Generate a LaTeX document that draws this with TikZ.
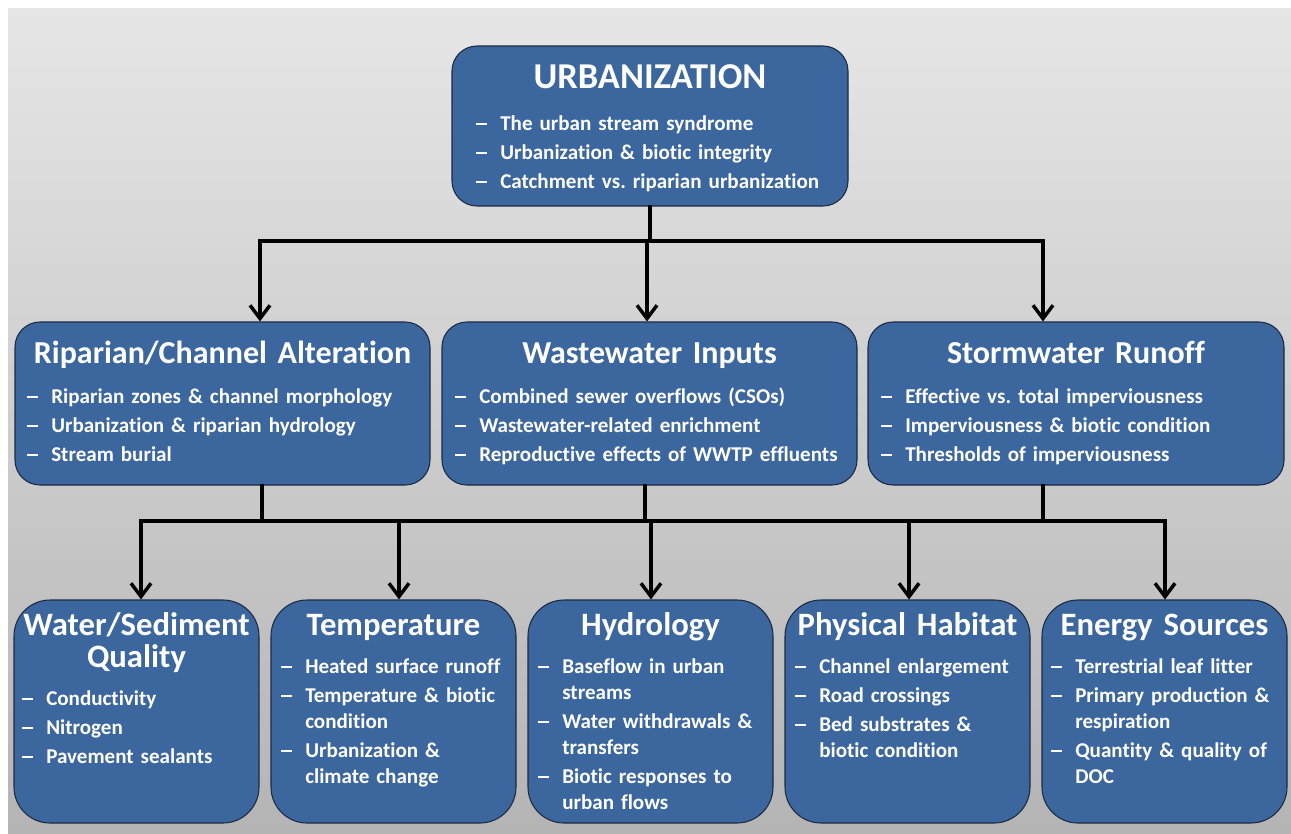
\documentclass[tikz,border=0pt]{standalone}
\usepackage{fontspec}
\setmainfont{Carlito}[Ligatures=NoCommon]
\usetikzlibrary{arrows.meta}
\definecolor{boxblue}{RGB}{60,102,158}
\definecolor{boxline}{RGB}{28,42,66}
\definecolor{bgtop}{RGB}{230,230,230}
\definecolor{bgbot}{RGB}{180,180,180}
\newcommand{\dashw}{18pt}
\newcommand{\itm}[1]{\hangindent=\dashw\hangafter=1\noindent\makebox[\dashw][l]{\rule[0.24em]{0.52em}{0.085em}}#1\par}
\tikzset{
  bluebox/.style={draw=boxline, line width=0.8pt, fill=boxblue, rounded corners=#1, inner sep=0pt},
  ttl/.style={text=white, anchor=base, text width=#1, align=center},
  bul/.style={text=white, anchor=base west, text width=300pt, align=left, inner sep=0pt,
    font=\bfseries\fontsize{15.8}{19.5}\selectfont,
    execute at begin node={\setlength{\parskip}{2.25pt}}},
  trunk/.style={draw=black, line width=3pt, line cap=rect},
  arr/.style={draw=black, line width=2.6pt, -{Straight Barb[length=10pt,width=15pt]}},
}
\begin{document}
\begin{tikzpicture}[x=0.75pt,y=-0.75pt]
\useasboundingbox (0,0) rectangle (1291,833);
\fill[white] (0,0) rectangle (1291,833);
\shade[top color=bgtop, bottom color=bgbot] (8,8) rectangle (1291,833);

% ---- connectors (upper) ----
\coordinate (j1) at (650,241);
\coordinate (b1l) at (260,241);
\coordinate (b1m) at (647,241);
\coordinate (b1r) at (1043,241);
% ---- connectors (lower) ----
\coordinate (d1) at (262,521);
\coordinate (d2) at (645,521);
\coordinate (d3) at (1043,521);
\coordinate (b2l) at (141,521);
\coordinate (b2a) at (399,521);
\coordinate (b2m) at (651,521);
\coordinate (b2b) at (909,521);
\coordinate (b2r) at (1165,521);

% ---- boxes ----
\node[bluebox=18.75pt, minimum width=297pt, minimum height=120pt] (top) at (650,126) {};
\node[bluebox=18.75pt, minimum width=311.25pt, minimum height=122.25pt] (rip) at (222.5,403.5) {};
\node[bluebox=18.75pt, minimum width=311.25pt, minimum height=122.25pt] (ww) at (649.5,403.5) {};
\node[bluebox=18.75pt, minimum width=312pt, minimum height=122.25pt] (sw) at (1076,403.5) {};
\node[bluebox=27pt, minimum width=183.75pt, minimum height=167.25pt] (wsq) at (136.5,711.5) {};
\node[bluebox=27pt, minimum width=183.75pt, minimum height=167.25pt] (temp) at (393.5,711.5) {};
\node[bluebox=27pt, minimum width=183.75pt, minimum height=167.25pt] (hyd) at (650.5,711.5) {};
\node[bluebox=27pt, minimum width=183.75pt, minimum height=167.25pt] (phys) at (907.5,711.5) {};
\node[bluebox=27pt, minimum width=183.75pt, minimum height=167.25pt] (en) at (1164.5,711.5) {};

\draw[trunk] (top.south) -- (j1);
\draw[trunk] (b1l) -- (b1r);
\draw[arr] (b1l) -- (b1l |- rip.north);
\draw[arr] (b1m) -- (b1m |- ww.north);
\draw[arr] (b1r) -- (b1r |- sw.north);
\draw[trunk] (d1 |- rip.south) -- (d1);
\draw[trunk] (d2 |- ww.south) -- (d2);
\draw[trunk] (d3 |- sw.south) -- (d3);
\draw[trunk] (b2l) -- (b2r);
\draw[arr] (b2l) -- (b2l |- wsq.north);
\draw[arr] (b2a) -- (b2a |- temp.north);
\draw[arr] (b2m) -- (b2m |- hyd.north);
\draw[arr] (b2b) -- (b2b |- phys.north);
\draw[arr] (b2r) -- (b2r |- en.north);

% ---- titles ----
\node[ttl=290pt, font=\bfseries\fontsize{27.3}{29}\selectfont] (topT) at (650,88) {URBANIZATION};
\node[ttl=305pt, font=\bfseries\fontsize{24}{27}\selectfont] (ripT) at (222.5,363) {Riparian/Channel Alteration};
\node[ttl=305pt, font=\bfseries\fontsize{24}{27}\selectfont] (wwT) at (649.5,363) {Wastewater Inputs};
\node[ttl=305pt, font=\bfseries\fontsize{24}{27}\selectfont] (swT) at (1076,363) {Stormwater Runoff};
\node[ttl=182pt, font=\bfseries\fontsize{24.5}{24}\selectfont] (wsqT) at (136.5,635) {Water/Sediment\\Quality};
\node[ttl=182pt, font=\bfseries\fontsize{24.5}{24}\selectfont] (tempT) at (393.5,635) {Temperature};
\node[ttl=182pt, font=\bfseries\fontsize{24.5}{24}\selectfont] (hydT) at (650.5,635) {Hydrology};
\node[ttl=182pt, font=\bfseries\fontsize{24.5}{24}\selectfont] (physT) at (907.5,635) {Physical Habitat};
\node[ttl=182pt, font=\bfseries\fontsize{24.5}{24}\selectfont] (enT) at (1164.5,635) {Energy Sources};

% ---- bullets ----
\node[bul] (topB) at (476,130) {\itm{The urban stream syndrome}\itm{Urbanization \& biotic integrity}\itm{Catchment vs.\ riparian urbanization}};
\node[bul] (ripB) at (27,403) {\itm{Riparian zones \& channel morphology}\itm{Urbanization \& riparian hydrology}\itm{Stream burial}};
\node[bul] (wwB) at (455,403) {\itm{Combined sewer overflows (CSOs)}\itm{Wastewater-related enrichment}\itm{Reproductive effects of WWTP effluents}};
\node[bul] (swB) at (881,403) {\itm{Effective vs.\ total imperviousness}\itm{Imperviousness \& biotic condition}\itm{Thresholds of imperviousness}};
\node[bul] (wsqB) at (22,705) {\itm{Conductivity}\itm{Nitrogen}\itm{Pavement sealants}};
\node[bul] (tempB) at (281,673) {\itm{Heated surface runoff}\itm{Temperature \& biotic\newline condition}\itm{Urbanization \&\newline climate change}};
\node[bul] (hydB) at (538,673) {\itm{Baseflow in urban\newline streams}\itm{Water withdrawals \&\newline transfers}\itm{Biotic responses to\newline urban flows}};
\node[bul] (physB) at (795,673) {\itm{Channel enlargement}\itm{Road crossings}\itm{Bed substrates \&\newline biotic condition}};
\node[bul] (enB) at (1051,673) {\itm{Terrestrial leaf litter}\itm{Primary production \&\newline respiration}\itm{Quantity \& quality of\newline DOC}};
\end{tikzpicture}
\end{document}
